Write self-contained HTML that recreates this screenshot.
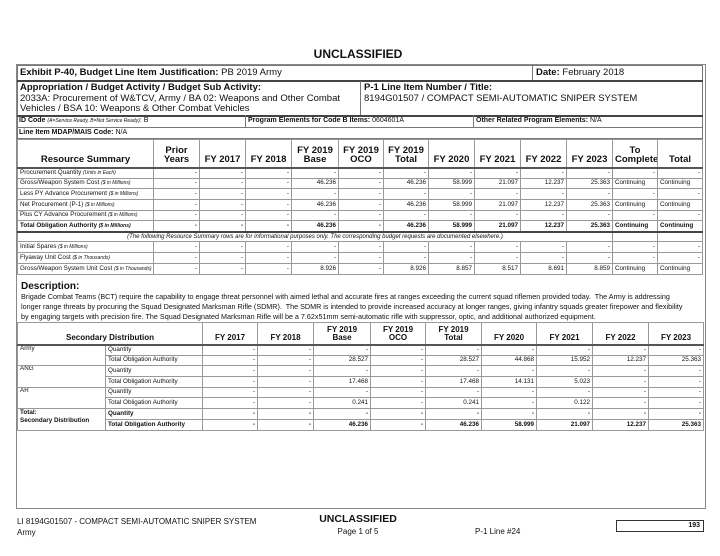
<!DOCTYPE html>
<html><head><meta charset="utf-8"><style>
*{box-sizing:border-box;margin:0;padding:0}
body{width:720px;height:556px;background:#fff;position:relative;font-family:"Liberation Sans",Arial,sans-serif;color:#111;overflow:hidden}
.a{position:absolute}
table{border-collapse:collapse;table-layout:fixed;position:absolute}
td{border:1px solid #999;padding:0 2px;overflow:hidden;white-space:nowrap;font-size:6.3px;text-align:right;line-height:1}
td.l{text-align:left}
td.c{text-align:center}
.b{font-weight:bold}
i{font-size:5px}
.hd td{font-weight:bold;font-size:9.5px;text-align:center;vertical-align:bottom;padding-bottom:2px;border-bottom:2px solid #555}
</style></head><body>
<div class="a b" style="left:0;width:716px;top:47px;text-align:center;font-size:12px">UNCLASSIFIED</div>
<div class="a" style="left:16px;top:64px;width:690px;height:445px;border:1px solid #888"></div>
<div class="a" style="left:17px;top:65px;width:686px;height:74px;border:1px solid #777"></div>
<div class="a" style="left:17px;top:80px;width:686px;border-top:2px solid #444"></div>
<div class="a" style="left:532px;top:65px;height:15px;border-left:1px solid #777"></div>
<div class="a" style="left:20px;top:67px;font-size:9.5px"><b>Exhibit P-40, Budget Line Item Justification:</b> PB 2019 Army</div>
<div class="a" style="left:536px;top:67px;font-size:9.5px"><b>Date:</b> February 2018</div>
<div class="a" style="left:360px;top:81px;height:34px;border-left:1px solid #777"></div>
<div class="a" style="left:20px;top:83px;font-size:9.5px;line-height:10.5px"><b>Appropriation / Budget Activity / Budget Sub Activity:</b><br>2033A: Procurement of W&amp;TCV, Army / BA 02: Weapons and Other Combat<br>Vehicles / BSA 10: Weapons &amp; Other Combat Vehicles</div>
<div class="a" style="left:364px;top:83px;font-size:9.5px;line-height:10.5px"><b>P-1 Line Item Number / Title:</b><br>8194G01507 / COMPACT SEMI-AUTOMATIC SNIPER SYSTEM</div>
<div class="a" style="left:17px;top:115px;width:686px;border-top:2px solid #444"></div>
<div class="a" style="left:17px;top:127px;width:686px;border-top:1px solid #777"></div>
<div class="a" style="left:245px;top:115px;height:12px;border-left:1px solid #777"></div>
<div class="a" style="left:473px;top:115px;height:12px;border-left:1px solid #777"></div>
<div class="a" style="left:19px;top:117px;font-size:7px"><b>ID Code</b> <i>(A=Service Ready, B=Not Service Ready)</i>: B</div>
<div class="a" style="left:248px;top:117px;font-size:7px"><b>Program Elements for Code B Items:</b> 0604601A</div>
<div class="a" style="left:476px;top:117px;font-size:7px"><b>Other Related Program Elements:</b> N/A</div>
<div class="a" style="left:19px;top:129px;font-size:7px"><b>Line Item MDAP/MAIS Code:</b> N/A</div>

<table style="left:17px;top:139px;width:686px">
<colgroup><col style="width:136px"><col style="width:46px"><col style="width:46px"><col style="width:46px"><col style="width:47px"><col style="width:45px"><col style="width:45px"><col style="width:46px"><col style="width:46px"><col style="width:46px"><col style="width:46px"><col style="width:45px"><col style="width:45px"></colgroup>
<tr class="hd" style="height:28px"><td>Resource Summary</td><td>Prior<br>Years</td><td>FY 2017</td><td>FY 2018</td><td>FY 2019<br>Base</td><td>FY 2019<br>OCO</td><td>FY 2019<br>Total</td><td>FY 2020</td><td>FY 2021</td><td>FY 2022</td><td>FY 2023</td><td>To<br>Complete</td><td>Total</td></tr>
<tr style="height:10.7px"><td class="l">Procurement Quantity <i>(Units in Each)</i></td><td>-</td><td>-</td><td>-</td><td>-</td><td>-</td><td>-</td><td>-</td><td>-</td><td>-</td><td>-</td><td>-</td><td>-</td></tr>
<tr style="height:10.7px"><td class="l">Gross/Weapon System Cost <i>($ in Millions)</i></td><td>-</td><td>-</td><td>-</td><td>46.236</td><td>-</td><td>46.236</td><td>58.999</td><td>21.097</td><td>12.237</td><td>25.363</td><td class="l">Continuing</td><td class="l">Continuing</td></tr>
<tr style="height:10.7px"><td class="l">Less PY Advance Procurement <i>($ in Millions)</i></td><td>-</td><td>-</td><td>-</td><td>-</td><td>-</td><td>-</td><td>-</td><td>-</td><td>-</td><td>-</td><td>-</td><td>-</td></tr>
<tr style="height:10.7px"><td class="l">Net Procurement (P-1) <i>($ in Millions)</i></td><td>-</td><td>-</td><td>-</td><td>46.236</td><td>-</td><td>46.236</td><td>58.999</td><td>21.097</td><td>12.237</td><td>25.363</td><td class="l">Continuing</td><td class="l">Continuing</td></tr>
<tr style="height:10.7px"><td class="l">Plus CY Advance Procurement <i>($ in Millions)</i></td><td>-</td><td>-</td><td>-</td><td>-</td><td>-</td><td>-</td><td>-</td><td>-</td><td>-</td><td>-</td><td>-</td><td>-</td></tr>
<tr style="height:10.7px"><td class="l b" style="border-bottom:2px solid #444">Total Obligation Authority <i>($ in Millions)</i></td><td class="b" style="border-bottom:2px solid #444">-</td><td class="b" style="border-bottom:2px solid #444">-</td><td class="b" style="border-bottom:2px solid #444">-</td><td class="b" style="border-bottom:2px solid #444">46.236</td><td class="b" style="border-bottom:2px solid #444">-</td><td class="b" style="border-bottom:2px solid #444">46.236</td><td class="b" style="border-bottom:2px solid #444">58.999</td><td class="b" style="border-bottom:2px solid #444">21.097</td><td class="b" style="border-bottom:2px solid #444">12.237</td><td class="b" style="border-bottom:2px solid #444">25.363</td><td class="l b" style="border-bottom:2px solid #444">Continuing</td><td class="l b" style="border-bottom:2px solid #444">Continuing</td></tr>
<tr style="height:10px"><td colspan="11" class="c" style="font-style:italic;font-size:6px">(The following Resource Summary rows are for informational purposes only. The corresponding budget requests are documented elsewhere.)</td><td></td><td></td></tr>
<tr style="height:11px"><td class="l">Initial Spares <i>($ in Millions)</i></td><td>-</td><td>-</td><td>-</td><td>-</td><td>-</td><td>-</td><td>-</td><td>-</td><td>-</td><td>-</td><td>-</td><td>-</td></tr>
<tr style="height:11px"><td class="l">Flyaway Unit Cost <i>($ in Thousands)</i></td><td>-</td><td>-</td><td>-</td><td>-</td><td>-</td><td>-</td><td>-</td><td>-</td><td>-</td><td>-</td><td>-</td><td>-</td></tr>
<tr style="height:11px"><td class="l">Gross/Weapon System Unit Cost <i>($ in Thousands)</i></td><td>-</td><td>-</td><td>-</td><td>8.926</td><td>-</td><td>8.926</td><td>8.857</td><td>8.517</td><td>8.691</td><td>8.859</td><td class="l">Continuing</td><td class="l">Continuing</td></tr>
</table>

<div class="a b" style="left:21px;top:281px;font-size:10px">Description:</div>
<div class="a" style="left:21px;top:292px;font-size:7.2px;line-height:10px;white-space:nowrap">Brigade Combat Teams (BCT) require the capability to engage threat personnel with aimed lethal and accurate fires at ranges exceeding the current squad riflemen provided today.&nbsp; The Army is addressing<br>longer range threats by procuring the Squad Designated Marksman Rifle (SDMR).&nbsp; The SDMR is intended to provide increased accuracy at longer ranges, giving infantry squads greater firepower and flexibility<br>by engaging targets with precision fire. The Squad Designated Marksman Rifle will be a 7.62x51mm semi-automatic rifle with suppressor, optic, and additional authorized equipment.</div>

<table style="left:17px;top:322px;width:686px">
<colgroup><col style="width:88px"><col style="width:97px"><col style="width:55px"><col style="width:56px"><col style="width:57px"><col style="width:55px"><col style="width:56px"><col style="width:55px"><col style="width:56px"><col style="width:56px"><col style="width:55px"></colgroup>
<tr class="hd" style="height:22px"><td colspan="2" style="font-size:8px">Secondary Distribution</td><td style="font-size:8px">FY 2017</td><td style="font-size:8px">FY 2018</td><td style="font-size:8px">FY 2019<br>Base</td><td style="font-size:8px">FY 2019<br>OCO</td><td style="font-size:8px">FY 2019<br>Total</td><td style="font-size:8px">FY 2020</td><td style="font-size:8px">FY 2021</td><td style="font-size:8px">FY 2022</td><td style="font-size:8px">FY 2023</td></tr>
<tr style="height:10.7px"><td rowspan="2" class="l" style="vertical-align:top">Army</td><td class="l">Quantity</td><td>-</td><td>-</td><td>-</td><td>-</td><td>-</td><td>-</td><td>-</td><td>-</td><td>-</td></tr>
<tr style="height:10.7px"><td class="l">Total Obligation Authority</td><td>-</td><td>-</td><td>28.527</td><td>-</td><td>28.527</td><td>44.868</td><td>15.952</td><td>12.237</td><td>25.363</td></tr>
<tr style="height:10.7px"><td rowspan="2" class="l" style="vertical-align:top">ANG</td><td class="l">Quantity</td><td>-</td><td>-</td><td>-</td><td>-</td><td>-</td><td>-</td><td>-</td><td>-</td><td>-</td></tr>
<tr style="height:10.7px"><td class="l">Total Obligation Authority</td><td>-</td><td>-</td><td>17.468</td><td>-</td><td>17.468</td><td>14.131</td><td>5.023</td><td>-</td><td>-</td></tr>
<tr style="height:10.7px"><td rowspan="2" class="l" style="vertical-align:top">AR</td><td class="l">Quantity</td><td>-</td><td>-</td><td>-</td><td>-</td><td>-</td><td>-</td><td>-</td><td>-</td><td>-</td></tr>
<tr style="height:10.7px"><td class="l">Total Obligation Authority</td><td>-</td><td>-</td><td>0.241</td><td>-</td><td>0.241</td><td>-</td><td>0.122</td><td>-</td><td>-</td></tr>
<tr style="height:10.7px"><td rowspan="2" class="l b" style="vertical-align:top;line-height:1.2">Total:<br>Secondary Distribution</td><td class="l b">Quantity</td><td class="b">-</td><td class="b">-</td><td class="b">-</td><td class="b">-</td><td class="b">-</td><td class="b">-</td><td class="b">-</td><td class="b">-</td><td class="b">-</td></tr>
<tr style="height:10.7px"><td class="l b">Total Obligation Authority</td><td class="b">-</td><td class="b">-</td><td class="b">46.236</td><td class="b">-</td><td class="b">46.236</td><td class="b">58.999</td><td class="b">21.097</td><td class="b">12.237</td><td class="b">25.363</td></tr>
</table>

<div class="a" style="left:17px;top:516px;font-size:8px;line-height:11px">LI 8194G01507 - COMPACT SEMI-AUTOMATIC SNIPER SYSTEM<br>Army</div>
<div class="a b" style="left:300px;width:116px;top:513px;text-align:center;font-size:10.5px">UNCLASSIFIED</div>
<div class="a" style="left:300px;width:116px;top:527px;text-align:center;font-size:8px">Page 1 of 5</div>
<div class="a" style="left:475px;top:527px;font-size:8px">P-1 Line #24</div>
<div class="a b" style="left:616px;top:520px;width:88px;height:12px;border:1px solid #333;font-size:7px;text-align:right;padding-right:3px;line-height:10px">193</div>
</body></html>
